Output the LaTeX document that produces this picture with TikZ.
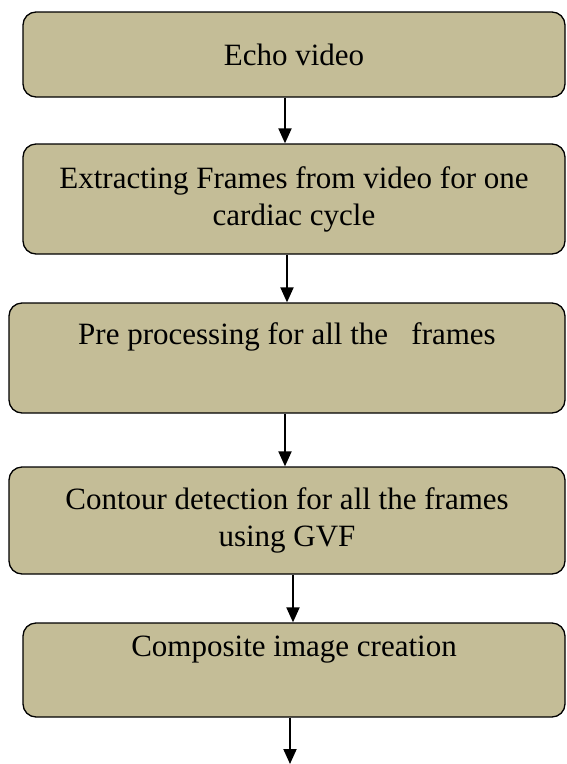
\documentclass[tikz,border=0pt]{standalone}
\usepackage{fontspec}
\setmainfont{Liberation Serif}
\usepackage{tikz}
\usetikzlibrary{arrows.meta, positioning, calc}
\definecolor{boxcolor}{RGB}{196,189,151}
\tikzstyle{stepbox} = [draw=black, fill=boxcolor, line width=1.3pt, rounded corners=13pt, align=center, inner sep=0pt, font=\fontsize{31}{37}\selectfont]
\tikzstyle{arrow} = [-{Triangle[length=15pt,width=13pt]}, line width=2pt]

\begin{document}
\begin{tikzpicture}[x=1pt, y=-1pt]
    \useasboundingbox (0,0) rectangle (566,764);

    % Boxes
    \node[stepbox, minimum width=542pt, minimum height=85pt] (echo) at (294, 54.5) {Echo video};
    \node[stepbox, minimum width=542pt, minimum height=110pt] (extract) at (294, 199) {Extracting Frames from video for one\\cardiac cycle};
    \node[stepbox, minimum width=556pt, minimum height=110pt] (preproc) at (287, 358) {Pre processing for all the \ \ frames\\\strut};
    \node[stepbox, minimum width=556pt, minimum height=107pt] (contour) at (287, 520.5) {Contour detection for all the frames\\using GVF};
    \node[stepbox, minimum width=542pt, minimum height=94pt] (composite) at (294, 670) {Composite image creation\\\strut};
    \coordinate (next) at (290, 764);

    % Arrows
    \draw[arrow] ([xshift=-9pt]echo.south) -- ([xshift=-9pt]extract.north);
    \draw[arrow] ([xshift=-7pt]extract.south) -- ([xshift=0pt]preproc.north);
    \draw[arrow] ([xshift=-2pt]preproc.south) -- ([xshift=-2pt]contour.north);
    \draw[arrow] ([xshift=6pt]contour.south) -- ([xshift=-1pt]composite.north);
    \draw[arrow] ([xshift=-4pt]composite.south) -- (next);

\end{tikzpicture}
\end{document}
